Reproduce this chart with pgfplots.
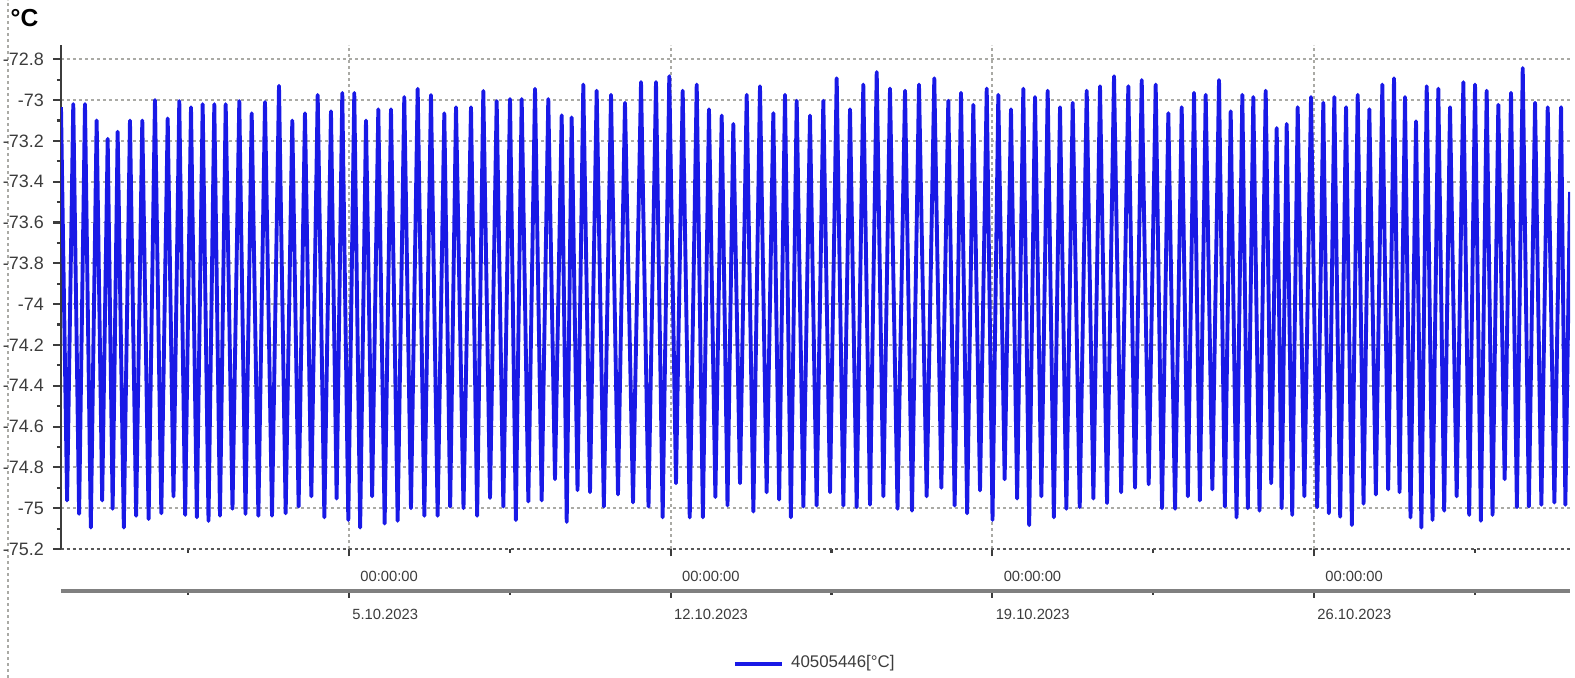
\documentclass[border=0pt]{standalone}
\usepackage{fontspec}
\setmainfont{Liberation Sans}
\usepackage{pgfplots}
\pgfplotsset{compat=1.18}
\definecolor{sig}{RGB}{25,25,230}
\definecolor{lbl}{RGB}{60,60,60}
\definecolor{gridc}{RGB}{170,170,165}
\begin{document}
\begin{tikzpicture}
\useasboundingbox (0,0) rectangle (157.5mm,67.8mm);
\draw[gridc, dash pattern=on 0.3mm off 0.3mm, line width=0.4pt] (0.8mm,0) -- (0.8mm,67.8mm);
\node[anchor=west, inner sep=0pt, font=\fontsize{7}{8}\selectfont\bfseries] at (1.0mm,66.0mm) {°C};
\begin{axis}[
 at={(6.1mm,12.9mm)}, anchor=south west,
 scale only axis, width=150.9mm, height=50.4mm,
 xmin=-2.267, xmax=30.571, ymin=-75.2, ymax=-72.73,
 axis x line*=bottom, axis y line*=left,
 axis line style={-},
 x axis line style={-, draw=gray!70!black, dash pattern=on 0.3mm off 0.3mm, line width=0.5pt},
 y axis line style={-, draw=lbl, line width=0.6pt},
 xtick={4,11,18,25}, xticklabels={00:00:00,00:00:00,00:00:00,00:00:00},
 minor xtick={0.5,7.5,14.5,21.5,28.5},
 ytick={-75.2,-75,-74.8,-74.6,-74.4,-74.2,-74,-73.8,-73.6,-73.4,-73.2,-73,-72.8},
 yticklabels={-75.2,-75,-74.8,-74.6,-74.4,-74.2,-74,-73.8,-73.6,-73.4,-73.2,-73,-72.8},
 minor ytick={-75.1,-74.9,-74.7,-74.5,-74.3,-74.1,-73.9,-73.7,-73.5,-73.3,-73.1,-72.9},
 tick align=outside,
 major tick length=0.75mm, minor tick length=0.4mm,
 tick style={lbl, line width=0.6pt},
 xmajorgrids, ymajorgrids,
 grid style={gridc, dash pattern=on 0.3mm off 0.3mm, line width=0.5pt},
 yticklabel style={font=\fontsize{5.1}{6}\selectfont, text=lbl, inner sep=0.3mm, xshift=-0.6mm},
 xticklabel style={font=\fontsize{4.2}{5}\selectfont, text=lbl, anchor=north west, xshift=-0.1mm, yshift=-0.2mm},
 legend style={at={(0.501,-0.228)}, anchor=center, draw=none, fill=none, font=\fontsize{4.8}{5}\selectfont, text=lbl, inner sep=0pt},
 legend image code/.code={\draw[#1, line width=1.3pt] (0mm,0mm) -- (4.7mm,0mm);},
]
\addplot[sig, line width=1.1pt, line join=round, mark=none] coordinates {
(-2.267,-73.035) (-2.134,-74.962)
(-2.000,-73.02) (-1.873,-75.028)
(-1.745,-73.02) (-1.618,-75.095)
(-1.491,-73.10) (-1.371,-74.962)
(-1.251,-73.19) (-1.143,-75.003)
(-1.034,-73.155) (-0.900,-75.095)
(-0.766,-73.10) (-0.632,-75.037)
(-0.498,-73.10) (-0.360,-75.053)
(-0.222,-73.00) (-0.084,-75.025)
(0.055,-73.09) (0.181,-74.942)
(0.307,-73.005) (0.435,-75.033)
(0.562,-73.035) (0.689,-75.045)
(0.816,-73.02) (0.943,-75.062)
(1.069,-73.02) (1.193,-75.037)
(1.317,-73.02) (1.465,-75.003)
(1.613,-73.005) (1.748,-75.028)
(1.883,-73.065) (2.028,-75.037)
(2.172,-73.01) (2.325,-75.037)
(2.477,-72.93) (2.622,-75.025)
(2.766,-73.10) (2.904,-74.992)
(3.042,-73.065) (3.181,-74.942)
(3.319,-72.975) (3.464,-75.045)
(3.608,-73.055) (3.731,-74.953)
(3.854,-72.965) (3.985,-75.058)
(4.115,-72.965) (4.243,-75.095)
(4.370,-73.10) (4.504,-74.942)
(4.638,-73.045) (4.776,-75.075)
(4.914,-73.045) (5.059,-75.062)
(5.203,-72.985) (5.349,-75.000)
(5.495,-72.945) (5.640,-75.037)
(5.784,-72.975) (5.929,-75.037)
(6.074,-73.065) (6.202,-74.992)
(6.329,-73.035) (6.492,-75.000)
(6.655,-73.035) (6.789,-75.037)
(6.923,-72.955) (7.069,-74.950)
(7.214,-73.005) (7.359,-74.992)
(7.504,-72.995) (7.631,-75.058)
(7.758,-72.995) (7.903,-74.967)
(8.048,-72.945) (8.193,-74.962)
(8.337,-72.995) (8.483,-74.858)
(8.629,-73.075) (8.738,-75.067)
(8.846,-73.085) (8.973,-74.912)
(9.099,-72.924) (9.245,-74.922)
(9.390,-72.954) (9.546,-74.992)
(9.702,-72.974) (9.854,-74.933)
(10.006,-73.013) (10.181,-74.972)
(10.355,-72.912) (10.518,-74.992)
(10.681,-72.912) (10.826,-75.045)
(10.970,-72.883) (11.116,-74.878)
(11.262,-72.954) (11.415,-75.045)
(11.567,-72.924) (11.701,-75.045)
(11.834,-73.045) (11.973,-74.945)
(12.111,-73.076) (12.237,-74.987)
(12.363,-73.117) (12.509,-74.878)
(12.655,-72.974) (12.800,-75.017)
(12.944,-72.932) (13.089,-74.922)
(13.234,-73.064) (13.361,-74.958)
(13.488,-72.974) (13.616,-75.045)
(13.743,-73.003) (13.888,-74.992)
(14.032,-73.076) (14.177,-74.987)
(14.322,-73.003) (14.468,-74.922)
(14.613,-72.893) (14.758,-74.987)
(14.903,-73.045) (15.048,-74.995)
(15.192,-72.924) (15.338,-74.983)
(15.484,-72.863) (15.629,-74.942)
(15.773,-72.944) (15.937,-75.003)
(16.100,-72.954) (16.252,-75.012)
(16.404,-72.924) (16.571,-74.942)
(16.737,-72.893) (16.890,-74.900)
(17.042,-73.003) (17.180,-74.987)
(17.318,-72.964) (17.452,-75.025)
(17.586,-73.023) (17.732,-74.913)
(17.878,-72.944) (18.004,-75.058)
(18.130,-72.974) (18.268,-74.858)
(18.406,-73.045) (18.540,-74.953)
(18.674,-72.944) (18.802,-75.083)
(18.929,-72.985) (19.067,-74.942)
(19.205,-72.954) (19.339,-75.045)
(19.473,-73.035) (19.611,-75.003)
(19.749,-73.013) (19.902,-74.995)
(20.054,-72.954) (20.199,-74.953)
(20.343,-72.932) (20.496,-74.975)
(20.648,-72.883) (20.804,-74.922)
(20.959,-72.932) (21.105,-74.900)
(21.251,-72.902) (21.403,-74.883)
(21.555,-72.924) (21.693,-75.000)
(21.830,-73.064) (21.976,-75.003)
(22.121,-73.035) (22.255,-74.942)
(22.389,-72.964) (22.516,-74.962)
(22.643,-72.974) (22.788,-74.908)
(22.933,-72.902) (23.060,-74.992)
(23.187,-73.055) (23.314,-75.045)
(23.440,-72.974) (23.560,-75.000)
(23.679,-72.985) (23.814,-75.012)
(23.949,-72.954) (24.069,-74.878)
(24.188,-73.137) (24.297,-75.000)
(24.406,-73.117) (24.526,-75.033)
(24.645,-73.035) (24.790,-74.942)
(24.935,-72.985) (25.069,-74.995)
(25.202,-73.013) (25.322,-75.025)
(25.442,-72.985) (25.570,-75.042)
(25.697,-73.035) (25.824,-75.083)
(25.951,-72.974) (26.078,-74.978)
(26.204,-73.045) (26.346,-74.933)
(26.487,-72.924) (26.614,-74.908)
(26.741,-72.893) (26.861,-74.922)
(26.980,-72.985) (27.100,-75.045)
(27.220,-73.104) (27.337,-75.095)
(27.453,-72.932) (27.579,-75.058)
(27.705,-72.944) (27.833,-75.012)
(27.960,-73.035) (28.105,-74.942)
(28.250,-72.912) (28.377,-75.033)
(28.504,-72.924) (28.631,-75.062)
(28.758,-72.954) (28.885,-75.033)
(29.011,-73.023) (29.149,-74.858)
(29.287,-72.964) (29.415,-74.995)
(29.542,-72.843) (29.676,-74.992)
(29.810,-73.013) (29.948,-74.983)
(30.086,-73.035) (30.231,-74.972)
(30.376,-73.035) (30.470,-74.983)
(30.571,-73.45)
};
\addlegendentry{40505446[°C]}
\end{axis}
\begin{axis}[
 at={(6.1mm,8.7mm)}, anchor=south west,
 scale only axis, width=150.9mm, height=2mm,
 xmin=-2.267, xmax=30.571, ymin=0, ymax=1,
 axis x line*=bottom, axis y line=none,
 axis line style={-},
 x axis line style={-, draw=gray, line width=1pt},
 xtick={4,11,18,25}, xticklabels={5.10.2023,12.10.2023,19.10.2023,26.10.2023},
 minor xtick={0.5,7.5,14.5,21.5,28.5},
 tick align=outside, major tick length=0.7mm, minor tick length=0.4mm,
 tick style={lbl, line width=0.6pt},
 xticklabel style={font=\fontsize{4.2}{5}\selectfont, text=lbl, anchor=north west, xshift=-0.9mm, yshift=0.1mm},
]
\end{axis}
\end{tikzpicture}
\end{document}
